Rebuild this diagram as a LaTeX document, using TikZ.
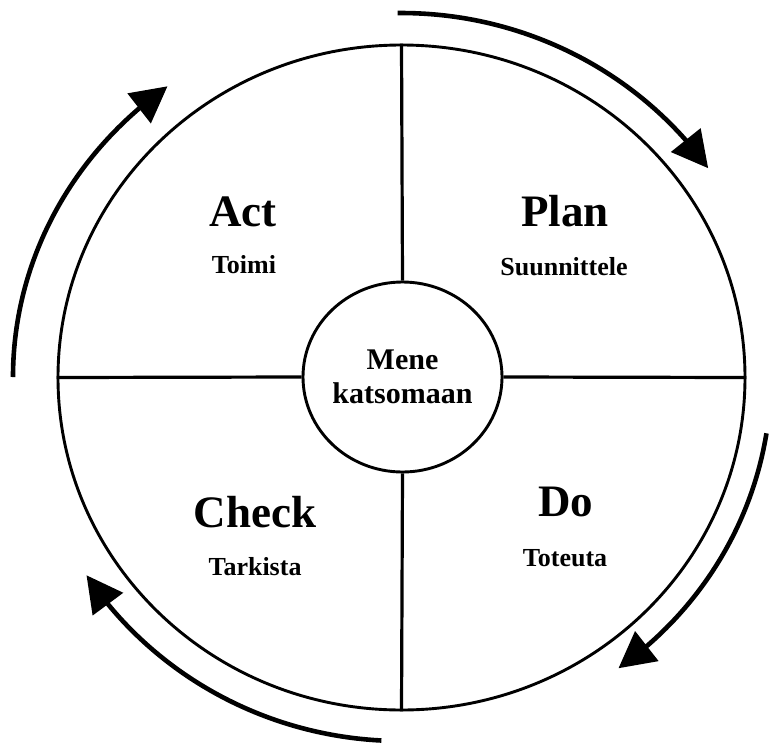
\documentclass[tikz,border=0pt]{standalone}
\usepackage{fontspec}
\setmainfont{Liberation Serif}
\usetikzlibrary{arrows.meta,bending,shapes.geometric,calc}

\tikzset{
  rimline/.style={draw, ellipse, line width=2.9pt, inner sep=0pt},
  divider/.style={line width=3.2pt},
  cyclearrow/.style={line width=4.6pt, -{Triangle[length=36pt,width=37pt]}},
  phase/.style={font=\fontsize{45}{52}\selectfont\bfseries, anchor=base, inner sep=0pt},
  subphase/.style={font=\fontsize{26}{30}\selectfont\bfseries, anchor=base, inner sep=0pt},
}

\begin{document}
\begin{tikzpicture}[x=1pt,y=1pt]
  % page frame
  \clip (0,0) rectangle (771,-742);
  \fill[white] (0,0) rectangle (771,-742);

  % outer wheel and hub
  \node[rimline, minimum width=687pt, minimum height=665pt] (rim) at (401.5,-377.5) {};
  \node[rimline, minimum width=199pt, minimum height=190pt,
        font=\fontsize{30}{34}\selectfont\bfseries, align=center] (hub) at (402.5,-377)
        {Mene\\katsomaan};

  % spokes dividing the four quarters
  \draw[divider] (hub.north) -- (rim.north);
  \draw[divider] (hub.south) -- (rim.south);
  \draw[divider] (hub.west)  -- (rim.west);
  \draw[divider] (hub.east)  -- (rim.east);

  % quarter labels
  \node[phase]    (act)   at (243,-226) {Act};
  \node[subphase] (actf)  at (244,-273) {Toimi};
  \node[phase]    (plan)  at (565,-226) {Plan};
  \node[subphase] (planf) at (564,-275) {Suunnittele};
  \node[phase]    (check) at (255,-527) {Check};
  \node[subphase] (chkf)  at (255,-575) {Tarkista};
  \node[phase]    (do)    at (566,-516) {Do};
  \node[subphase] (dof)   at (565,-566) {Toteuta};

  % cycle arrows around the wheel (clockwise)
  \coordinate (ctr) at (401,-377);
  \coordinate (planarc)  at ($(ctr)+(90.5:375pt and 364pt)$);
  \coordinate (doarc)    at ($(ctr)+(-9:370pt and 360pt)$);
  \coordinate (checkarc) at ($(ctr)+(-93:375pt and 364pt)$);
  \coordinate (actarc)   at ($(ctr)+(180:388pt and 364pt)$);

  \draw[cyclearrow] (planarc)  arc[start angle=90.5, end angle=35,   x radius=375pt, y radius=364pt];
  \draw[cyclearrow] (doarc)    arc[start angle=-9,   end angle=-54,  x radius=370pt, y radius=360pt];
  \draw[cyclearrow] (checkarc) arc[start angle=-93,  end angle=-147, x radius=375pt, y radius=364pt];
  \draw[cyclearrow] (actarc)   arc[start angle=180,  end angle=127,  x radius=388pt, y radius=364pt];
\end{tikzpicture}
\end{document}
